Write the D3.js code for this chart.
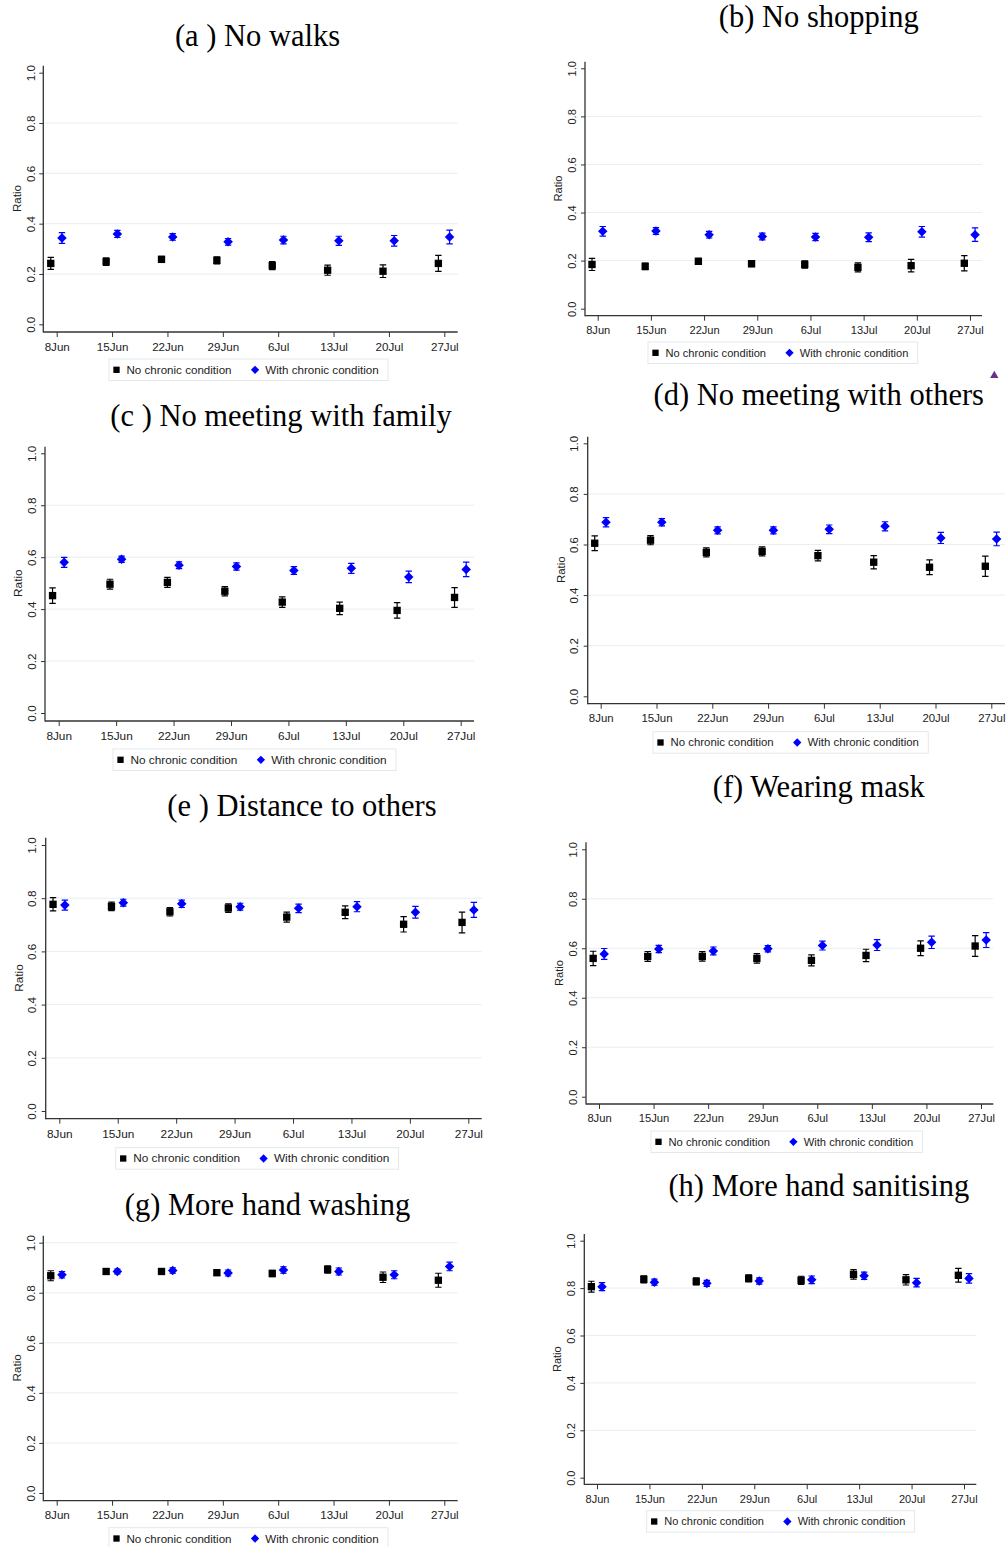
<!DOCTYPE html>
<html>
<head>
<meta charset="utf-8">
<script src="https://cdn.jsdelivr.net/npm/d3@7"></script>
<style>
  body { margin: 0; background: #fff; }
  svg { display: block; }
  .tick text { font-family: "Liberation Sans", Arial, sans-serif; fill: #222; }
</style>
</head>
<body>
<div id="chart"></div>
<script>
// Week start dates (x axis) and panel titles
var weekLabels = ["8Jun", "15Jun", "22Jun", "29Jun", "6Jul", "13Jul", "20Jul", "27Jul"];
var panelTitles = ["(a ) No walks", "(b) No shopping", "(c ) No meeting with family",
  "(d) No meeting with others", "(e ) Distance to others", "(f) Wearing mask",
  "(g) More hand washing", "(h) More hand sanitising"];
var legendLabels = ["No chronic condition", "With chronic condition"];
var yTicks = [0, 0.2, 0.4, 0.6, 0.8, 1.0];

// (a) No walks
var walksNo = [0.242, 0.249, 0.258, 0.254, 0.233, 0.215, 0.211, 0.242];
var walksNoErr = [0.024, 0.015, 0.012, 0.014, 0.016, 0.020, 0.025, 0.032];
var walksWith = [0.343, 0.359, 0.347, 0.328, 0.335, 0.332, 0.332, 0.347];
var walksWithErr = [0.021, 0.014, 0.013, 0.013, 0.015, 0.018, 0.021, 0.027];
// (b) No shopping
var shopNo = [0.184, 0.176, 0.197, 0.187, 0.184, 0.172, 0.179, 0.189];
var shopNoErr = [0.025, 0.014, 0.012, 0.012, 0.015, 0.019, 0.026, 0.032];
var shopWith = [0.322, 0.323, 0.308, 0.300, 0.298, 0.297, 0.320, 0.308];
var shopWithErr = [0.020, 0.014, 0.014, 0.014, 0.015, 0.018, 0.022, 0.028];
// (c) No meeting with family
var familyNo = [0.452, 0.496, 0.503, 0.469, 0.427, 0.403, 0.395, 0.445];
var familyNoErr = [0.030, 0.019, 0.019, 0.018, 0.020, 0.024, 0.030, 0.038];
var familyWith = [0.580, 0.592, 0.569, 0.564, 0.549, 0.557, 0.524, 0.553];
var familyWithErr = [0.019, 0.012, 0.013, 0.014, 0.015, 0.019, 0.022, 0.028];
// (d) No meeting with others
var othersNo = [0.605, 0.617, 0.569, 0.573, 0.556, 0.530, 0.510, 0.514];
var othersNoErr = [0.029, 0.018, 0.018, 0.018, 0.021, 0.026, 0.029, 0.040];
var othersWith = [0.688, 0.688, 0.656, 0.656, 0.660, 0.672, 0.626, 0.622];
var othersWithErr = [0.018, 0.014, 0.014, 0.014, 0.017, 0.018, 0.022, 0.027];
// (e) Distance to others
var distNo = [0.777, 0.769, 0.749, 0.763, 0.729, 0.747, 0.702, 0.709];
var distNoErr = [0.025, 0.016, 0.016, 0.016, 0.019, 0.024, 0.029, 0.039];
var distWith = [0.774, 0.783, 0.779, 0.768, 0.762, 0.768, 0.747, 0.756];
var distWithErr = [0.019, 0.013, 0.014, 0.013, 0.016, 0.019, 0.022, 0.028];
// (f) Wearing mask
var maskNo = [0.559, 0.567, 0.567, 0.559, 0.551, 0.571, 0.600, 0.609];
var maskNoErr = [0.029, 0.020, 0.019, 0.019, 0.022, 0.025, 0.030, 0.042];
var maskWith = [0.577, 0.597, 0.589, 0.598, 0.611, 0.613, 0.624, 0.633];
var maskWithErr = [0.022, 0.015, 0.016, 0.013, 0.018, 0.022, 0.025, 0.030];
// (g) More hand washing
var washNo = [0.868, 0.885, 0.885, 0.880, 0.877, 0.893, 0.862, 0.850];
var washNoErr = [0.020, 0.011, 0.011, 0.011, 0.013, 0.015, 0.021, 0.028];
var washWith = [0.872, 0.885, 0.889, 0.879, 0.891, 0.885, 0.872, 0.905];
var washWithErr = [0.013, 0.010, 0.011, 0.012, 0.013, 0.014, 0.016, 0.017];
// (h) More hand sanitising
var saniNo = [0.806, 0.837, 0.828, 0.841, 0.833, 0.858, 0.835, 0.854];
var saniNoErr = [0.023, 0.015, 0.015, 0.015, 0.017, 0.020, 0.022, 0.029];
var saniWith = [0.806, 0.825, 0.820, 0.830, 0.835, 0.852, 0.823, 0.841];
var saniWithErr = [0.017, 0.013, 0.013, 0.013, 0.016, 0.015, 0.018, 0.020];

function init() {
  var W = 1008, H = 1547;
  var svg = d3.select("#chart").append("svg").attr("width", W).attr("height", H);

  var parseWeek = d3.timeParse("%d%b%Y");
  var weeks = weekLabels.map((s) => parseWeek(s + "2020"));

  var series = [
    [walksNo, walksNoErr, walksWith, walksWithErr],
    [shopNo, shopNoErr, shopWith, shopWithErr],
    [familyNo, familyNoErr, familyWith, familyWithErr],
    [othersNo, othersNoErr, othersWith, othersWithErr],
    [distNo, distNoErr, distWith, distWithErr],
    [maskNo, maskNoErr, maskWith, maskWithErr],
    [washNo, washNoErr, washWith, washWithErr],
    [saniNo, saniNoErr, saniWith, saniWithErr]
  ];

  // Panel placement (pixels): y axis x, axis top, y of 1.0 and 0.0, x axis line,
  // first/last week tick x, right end of x axis, title centre/baseline, legend box
  var layout = [
    { ax: 43.3, yt: 65.7, y1: 72.7, y0: 324.3, yb: 332, x8: 56.7, x27: 444.3, xr: 457.7, tx: 257.5, ty: 45.7, lx: 109, ly: 359, fs: 11.6 },
    { ax: 585, yt: 61.7, y1: 68.3, y0: 308.7, yb: 315.7, x8: 597.7, x27: 970, xr: 982, tx: 818.8, ty: 26.7, lx: 648, ly: 342, fs: 11.1 },
    { ax: 45, yt: 446.7, y1: 453.3, y0: 713, yb: 721, x8: 58.7, x27: 460.7, xr: 474, tx: 281, ty: 425.7, lx: 113, ly: 749, fs: 11.8 },
    { ax: 587.7, yt: 436.7, y1: 443.3, y0: 696.3, yb: 703.7, x8: 600.7, x27: 991.3, xr: 1005, tx: 818.8, ty: 405, lx: 653, ly: 731.7, fs: 11.4 },
    { ax: 45.7, yt: 837.7, y1: 845, y0: 1111, yb: 1118.7, x8: 59.3, x27: 468.3, xr: 481.7, tx: 302, ty: 815.7, lx: 115.7, ly: 1147.7, fs: 11.8 },
    { ax: 586, yt: 842.3, y1: 849.3, y0: 1096.7, yb: 1104, x8: 599, x27: 981, xr: 993.3, tx: 818.8, ty: 797.3, lx: 651, ly: 1131, fs: 11.2 },
    { ax: 43.3, yt: 1235.7, y1: 1242.7, y0: 1493, yb: 1500.7, x8: 56.7, x27: 444.3, xr: 457.7, tx: 267.5, ty: 1215, lx: 109, ly: 1527.7, fs: 11.6, topGrid: true },
    { ax: 584.3, yt: 1234, y1: 1240.7, y0: 1477.7, yb: 1484.3, x8: 597, x27: 964, xr: 976.3, tx: 818.8, ty: 1196, lx: 646.7, ly: 1510.7, fs: 11.0 }
  ];

  var fmtWeek = d3.timeFormat("%-d%b");
  var square = d3.symbol().type(d3.symbolSquare).size(54);
  var diamond = d3.symbol().type(d3.symbolDiamond2).size(58);
  var blue = "#0000ff";
  var sans = "'Liberation Sans', Arial, sans-serif";

  layout.forEach(function (p, i) {
    var g = svg.append("g");
    var x = d3.scaleTime().domain([weeks[0], weeks[7]]).range([p.x8, p.x27]);
    var y = d3.scaleLinear().domain([0, 1]).range([p.y0, p.y1]);

    // gridlines
    g.selectAll("line.grid")
      .data(yTicks.filter((t) => t > 0 && (t < 1 || p.topGrid)))
      .enter()
      .append("line")
      .attr("x1", p.ax).attr("x2", p.xr)
      .attr("y1", (d) => y(d)).attr("y2", (d) => y(d))
      .attr("stroke", "#e6eff1").attr("stroke-width", 1);

    // y axis
    var yAxis = g.append("g")
      .attr("transform", "translate(" + p.ax + ",0)")
      .call(d3.axisLeft(y).tickValues(yTicks).tickFormat(d3.format(".1f")).tickSize(4));
    yAxis.select(".domain").remove();
    yAxis.selectAll(".tick line").attr("stroke", "#333");
    yAxis.selectAll(".tick text")
      .attr("x", null).attr("dy", null)
      .attr("transform", "translate(-13.3,0) rotate(-90)")
      .attr("text-anchor", "middle")
      .attr("dominant-baseline", "central")
      .style("font-size", p.fs + "px");

    // x axis
    var xAxis = g.append("g")
      .attr("transform", "translate(0," + p.yb + ")")
      .call(d3.axisBottom(x).tickValues(weeks).tickFormat(fmtWeek).tickSize(5).tickPadding(5.5));
    xAxis.select(".domain").remove();
    xAxis.selectAll(".tick line").attr("stroke", "#333");
    xAxis.selectAll(".tick text").style("font-size", p.fs + "px");

    // axis lines
    g.append("line").attr("x1", p.ax).attr("x2", p.ax).attr("y1", p.yt).attr("y2", p.yb + 0.6)
      .attr("stroke", "#333").attr("stroke-width", 1.3);
    g.append("line").attr("x1", p.ax).attr("x2", p.xr).attr("y1", p.yb).attr("y2", p.yb)
      .attr("stroke", "#333").attr("stroke-width", 1.3);

    // y axis title
    g.append("text")
      .attr("transform", "translate(" + (p.ax - 27) + "," + (p.y0 + p.y1) / 2 + ") rotate(-90)")
      .attr("text-anchor", "middle").attr("dominant-baseline", "central")
      .style("font-family", sans).style("font-size", p.fs + "px").attr("fill", "#222")
      .text("Ratio");

    // panel title
    g.append("text")
      .attr("x", p.tx).attr("y", p.ty)
      .attr("text-anchor", "middle")
      .style("font-family", "'Liberation Serif', 'Times New Roman', serif")
      .style("font-size", "30.5px").attr("fill", "#000")
      .text(panelTitles[i]);

    // error bars and markers for both groups
    var s = series[i];
    var groups = [
      { vals: s[0], errs: s[1], shift: -0.75, color: "#000", sym: square },
      { vals: s[2], errs: s[3], shift: 0.7, color: blue, sym: diamond }
    ];
    groups.forEach(function (grp) {
      var pts = weeks.map((w, k) => ({
        cx: x(d3.timeHour.offset(w, grp.shift * 24)),
        v: grp.vals[k], e: grp.errs[k]
      }));
      var eb = g.append("g").attr("stroke", grp.color).attr("stroke-width", 1.2).attr("fill", "none");
      eb.selectAll("path")
        .data(pts)
        .enter()
        .append("path")
        .attr("d", function (d) {
          var lo = y(d.v - d.e), hi = y(d.v + d.e), c = 3.2;
          return "M" + d.cx + "," + lo + "V" + hi +
            "M" + (d.cx - c) + "," + hi + "H" + (d.cx + c) +
            "M" + (d.cx - c) + "," + lo + "H" + (d.cx + c);
        });
      g.selectAll(null)
        .data(pts)
        .enter()
        .append("path")
        .attr("d", grp.sym)
        .attr("transform", (d) => "translate(" + d.cx + "," + y(d.v) + ")")
        .attr("fill", grp.color);
    });

    // legend
    var lg = g.append("g").attr("transform", "translate(" + p.lx + "," + p.ly + ")");
    var box = lg.append("rect").attr("height", 21.5).attr("fill", "#fff")
      .attr("stroke", "#e1e9ec").attr("stroke-width", 1);
    var midY = 10.8;
    var t1 = lg.append("text").attr("x", 17.5).attr("y", midY).attr("dominant-baseline", "central")
      .style("font-family", sans).style("font-size", p.fs + "px").attr("fill", "#222")
      .text(legendLabels[0]);
    lg.append("path").attr("d", d3.symbol().type(d3.symbolSquare).size(40))
      .attr("transform", "translate(7.5," + midY + ")").attr("fill", "#000");
    var w1 = t1.node().getComputedTextLength();
    var dx = 17.5 + w1 + 23.5;
    lg.append("path").attr("d", d3.symbol().type(d3.symbolDiamond2).size(44))
      .attr("transform", "translate(" + dx + "," + midY + ")").attr("fill", blue);
    var t2 = lg.append("text").attr("x", dx + 10.3).attr("y", midY).attr("dominant-baseline", "central")
      .style("font-family", sans).style("font-size", p.fs + "px").attr("fill", "#222")
      .text(legendLabels[1]);
    var w2 = t2.node().getComputedTextLength();
    box.attr("width", dx + 10.3 + w2 + 9.3);
  });

  // small stray marker at the right edge of the figure
  svg.append("path")
    .attr("d", d3.symbol().type(d3.symbolTriangle).size(30))
    .attr("transform", "translate(994.3,375.5)")
    .attr("fill", "#6b2f8a");
}

window.onload = init;
</script>
</body>
</html>
